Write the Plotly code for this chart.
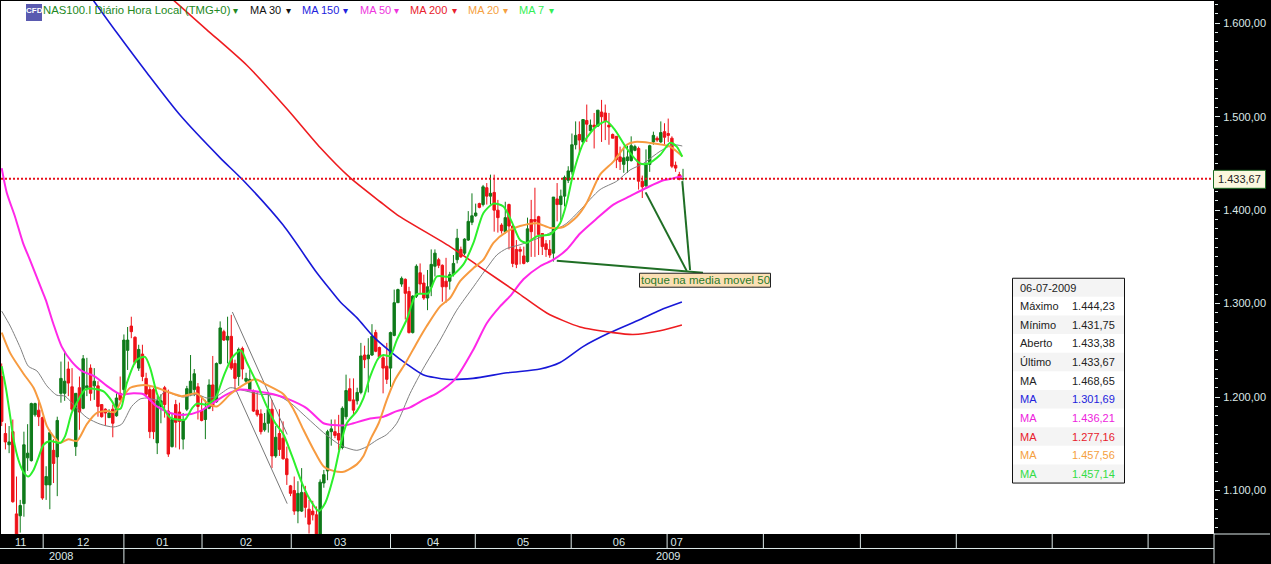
import plotly.graph_objects as go

# Daily candles, indexed by trading session
opens = [1222,1161,1149,1163,1075,1073,1086,1135,1132,1181,
 1186,1178,1106,1106,1143,1136,1204,1204,1230,1211,
 1147,1210,1188,1210,1231,1212,1212,1192,1187,1178,
 1187,1180,1204,1208,1250,1276,1264,1231,1246,1220,
 1208,1208,1151,1190,1210,1185,1147,1192,1184,1155,
 1187,1203,1208,1211,1185,1176,1188,1213,1195,1236,
 1270,1261,1265,1236,1222,1252,1217,1208,1206,1186,
 1182,1165,1172,1187,1137,1161,1156,1134,1105,1100,
 1078,1078,1098,1080,1078,1074,1050,1108,1121,1163,
 1163,1161,1146,1179,1209,1197,1196,1205,1245,1241,
 1245,1269,1253,1242,1233,1231,1266,1301,1321,1326,
 1313,1269,1308,1333,1322,1306,1318,1340,1347,1341,
 1324,1324,1331,1347,1358,1354,1368,1387,1394,1407,
 1406,1424,1415,1419,1400,1384,1377,1406,1383,1358,
 1358,1351,1345,1390,1390,1393,1375,1364,1358,1354,
 1412,1406,1415,1432,1441,1470,1481,1473,1496,1485,
 1491,1490,1505,1504,1491,1481,1479,1457,1449,1453,
 1453,1464,1466,1431,1426,1449,1473,1477,1473,1484,
 1482,1477,1448,1438,1433.38]
closes = [1174,1152,1152,1088,1050,1084,1149,1140,1193,1193,
 1179,1092,1115,1162,1129,1175,1220,1217,1215,1187,
 1204,1184,1241,1212,1204,1217,1190,1179,1183,1183,
 1172,1199,1197,1261,1261,1270,1237,1251,1222,1203,
 1163,1163,1196,1196,1192,1139,1176,1173,1174,1176,
 1209,1217,1225,1190,1175,1188,1213,1190,1236,1274,
 1261,1265,1231,1220,1251,1230,1220,1219,1185,1181,
 1163,1172,1187,1137,1157,1144,1134,1117,1097,1078,
 1097,1098,1082,1064,1074,1050,1109,1117,1163,1166,
 1159,1154,1188,1207,1196,1186,1205,1244,1240,1245,
 1265,1249,1243,1231,1219,1269,1301,1315,1327,1311,
 1269,1308,1340,1321,1306,1318,1342,1354,1341,1318,
 1318,1331,1343,1370,1350,1369,1388,1394,1397,1403,
 1425,1415,1418,1400,1392,1378,1392,1383,1343,1342,
 1356,1343,1380,1377,1388,1374,1361,1358,1352,1414,
 1406,1415,1435,1442,1470,1480,1475,1497,1492,1491,
 1489,1507,1500,1495,1489,1477,1454,1452,1456,1457,
 1469,1468,1431,1425,1449,1469,1480,1475,1483,1478,
 1480,1447,1445,1433,1433.67]
highs = [1236,1172,1169,1176,1115,1090,1163,1171,1194,1194,
 1197,1179,1126,1165,1155,1179,1238,1249,1238,1231,
 1204,1222,1245,1242,1235,1231,1217,1192,1188,1187,
 1192,1204,1222,1267,1275,1286,1265,1256,1256,1226,
 1212,1210,1201,1203,1212,1208,1183,1197,1194,1183,
 1212,1245,1230,1215,1201,1197,1219,1244,1237,1281,
 1272,1286,1288,1240,1253,1254,1226,1229,1208,1206,
 1187,1183,1203,1197,1169,1187,1174,1147,1106,1115,
 1110,1124,1105,1090,1089,1083,1112,1122,1165,1176,
 1176,1181,1190,1224,1220,1220,1210,1258,1255,1263,
 1278,1272,1254,1245,1258,1270,1315,1316,1329,1327,
 1318,1309,1342,1343,1331,1336,1358,1358,1349,1342,
 1349,1334,1352,1380,1361,1370,1399,1418,1407,1408,
 1427,1429,1438,1438,1411,1386,1409,1407,1384,1368,
 1361,1361,1392,1411,1424,1394,1375,1368,1368,1414,
 1429,1422,1437,1447,1482,1495,1495,1497,1513,1497,
 1504,1507,1518,1513,1504,1482,1479,1468,1468,1469,
 1479,1470,1468,1437,1465,1470,1484,1479,1495,1493,
 1498,1479,1452,1441,1444.23]
lows = [1169,1144,1140,1087,1045,1055,1072,1121,1131,1179,
 1169,1090,1090,1080,1108,1094,1194,1196,1201,1185,
 1137,1165,1187,1201,1196,1197,1179,1178,1169,1178,
 1157,1179,1196,1203,1229,1263,1235,1228,1217,1201,
 1156,1155,1139,1172,1178,1136,1146,1146,1144,1144,
 1185,1201,1201,1176,1174,1155,1187,1185,1194,1235,
 1260,1236,1229,1208,1212,1219,1215,1206,1184,1179,
 1160,1163,1162,1124,1135,1137,1133,1106,1094,1074,
 1065,1077,1071,1054,1068,1045,1045,1103,1111,1148,
 1156,1143,1144,1176,1196,1181,1192,1203,1231,1205,
 1244,1248,1243,1204,1214,1211,1265,1301,1318,1283,
 1268,1268,1306,1311,1304,1293,1308,1329,1338,1302,
 1301,1315,1329,1343,1349,1352,1367,1384,1393,1402,
 1404,1406,1406,1377,1376,1375,1375,1358,1339,1338,
 1342,1342,1344,1350,1350,1352,1352,1350,1349,1345,
 1388,1389,1404,1429,1438,1465,1459,1472,1473,1484,
 1466,1489,1473,1475,1470,1477,1445,1443,1440,1440,
 1452,1463,1422,1413,1425,1441,1470,1473,1472,1470,
 1473,1445,1441,1432,1431.75]
sessions = list(range(len(opens)))

# Moving averages: (session, price)
ma7_x = [0,1.2,2.3,3.2,4.5,6,7.2,8.6,9.9,11.3,13.1,15.8,17.1,18.9,20.7,22.5,24.8,27.5,29.7,31.1,32.2,33.8,36.5,38.7,40.1,41.9,43.7,45.5,47.3,49.5,51.4,52.7,55.4,57.7,59.9,62.2,64.6,66.2,68.9,71.6,73.9,76.1,78.4,81.1,83.3,85.6,87.4,89.6,91.4,93.2,95.9,97.7,99.5,101.8,103.1,104.9,106.7,109.4,112,115.2,117.5,121.2,124.7,127.4,130.1,132.8,135.5,137.7,140,141.8,144.5,148.1,150.8,152.6,154.4,157.1,160.7,163.4,165.6,168.8,172.4,174.6,177.8,180.5,182.3,183.8]
ma7_y = [1233,1208,1179,1155,1133,1119,1115,1122,1135,1149,1153,1151,1158,1183,1197,1208,1209,1206,1196,1187,1188,1215,1240,1243,1231,1204,1188,1178,1176,1176,1188,1193,1192,1199,1222,1242,1250,1237,1215,1190,1172,1160,1137,1108,1090,1078,1087,1115,1147,1172,1185,1199,1222,1242,1245,1244,1261,1283,1310,1311,1329,1329,1342,1365,1397,1407,1404,1388,1368,1365,1372,1374,1386,1408,1440,1472,1490,1495,1486,1466,1450,1450,1459,1472,1468,1457.14]
ma20_x = [0,2.3,5.9,8.6,10.4,12.2,14,15.8,18,20.3,23,25.7,28.4,30.6,32.4,34.7,38.7,41.9,44.6,48.6,52.7,55.4,58.1,61.7,65.3,68.5,71.6,76.1,78.8,81.5,84.2,86.9,89.6,92.3,95.9,97.7,99.5,101.8,104,106.3,109,112.1,114.8,118.4,121.1,123.8,127.4,130.1,132.8,136.4,140,144.5,148.1,151.7,155.3,158,161.6,165.2,168.8,171,175,180.5,183.8]
ma20_y = [1269,1247,1225,1210,1192,1169,1158,1151,1155,1153,1171,1183,1185,1184,1197,1210,1213,1210,1206,1201,1204,1194,1190,1203,1213,1219,1213,1203,1187,1165,1144,1126,1121,1120,1128,1137,1154,1172,1197,1219,1236,1258,1276,1297,1306,1324,1338,1347,1365,1377,1383,1386,1381,1382,1393,1408,1438,1452,1470,1473,1472,1468,1457.56]
ma30_x = [0,2.3,5,7.2,9.5,12.2,14.9,17.1,19.8,23,26.6,30.2,32.4,35.1,37.4,39.6,41.9,44.1,46.4,49.1,52.7,55.4,58.1,61.7,64.4,69.8,74.3,77.9,82.4,86.9,90.5,92.3,95.9,98.6,101.3,104,106.7,110.3,113.9,118.4,122.9,127.4,131,133.7,136.4,140,143.6,147.2,152.6,156.2,161.6,166.1,169.7,173.3,177.8,181.3,183.8]
ma30_y = [1292,1276,1253,1233,1228,1212,1202,1201,1190,1178,1171,1168,1171,1190,1198,1199,1197,1206,1203,1200,1203,1199,1201,1210,1208,1203,1202,1194,1178,1162,1151,1147,1143,1147,1154,1160,1172,1204,1231,1261,1293,1318,1338,1352,1359,1363,1368,1374,1386,1400,1422,1431,1443,1450,1463,1470,1468.65]
ma50_x = [0,1.35,3.6,5.75,7.6,10.8,11.9,13.9,16.2,18.9,21.6,25.2,28.4,32,35.6,38.3,41.9,45.5,49.5,53.6,57.2,60.8,64.4,68.9,73.4,77.9,82.4,86.9,89.6,93.2,95,99.5,103.1,106.7,110.3,113.9,117.5,122.4,127.4,131,134.6,137.3,140.9,145.4,149,152.6,156.2,160.7,165.2,169.7,174.2,178.7,181.3,183.8]
ma50_y = [1445,1419,1393,1365,1347,1315,1304,1279,1254,1238,1228,1222,1212,1203,1204,1203,1190,1183,1181,1185,1194,1203,1208,1206,1203,1197,1188,1172,1170,1170,1172,1177,1179,1185,1189,1197,1204,1219,1251,1279,1297,1308,1326,1340,1347,1358,1375,1391,1406,1415,1424,1432,1434,1436.21]
ma150_x = [24.65,31.06,39.2,48.1,59,65.2,76,85.1,88.7,91.4,95.9,100.3,104.9,109.5,113.8,120.2,127.3,136.5,145.4,150.8,157,164.3,172.4,177.8,183.7]
ma150_y = [1625,1590,1547,1502,1456,1432,1384,1333,1315,1302,1285,1265,1249,1235,1224,1219,1220,1226,1230,1237,1254,1269,1283,1293,1301.69]
ma200_x = [46.3,55.4,66.2,76.9,86,94,102.2,106.8,121.1,129.2,139.2,147.2,156.2,165.1,170.5,177.8,183.7]
ma200_y = [1625,1593,1555,1509,1467,1435,1409,1395,1361,1339,1312,1290,1275,1269,1267,1271,1277.16]

# Hand-drawn lines on the chart
trend_lines = [([62.3,77.1],[1291,1160]), ([63,77.1],[1210,1086])]
touch_lines = [([173.9,185],[1419,1335]), ([183.8,185.9],[1431,1336]), ([149.9,189.4],[1346,1333])]

last_price = 1433.67
y_major = [1100,1200,1300,1400,1500,1600]
month_labels = ["11","12","01","02","03","04","05","06","07"]
month_label_pos = [5.1,22,43.4,66,91.4,116.5,140.8,166.7,182.3]
month_edges = [11.2,33,54.1,78.2,105,127.9,153.8,179.7,205.7,231.9,257.8,283.7,309.6]
year_edge = 33

info_rows = [("06-07-2009","", "#222222"),("Máximo","1.444,23","#222222"),("Mínimo","1.431,75","#222222"),
             ("Aberto","1.433,38","#222222"),("Último","1.433,67","#222222"),("MA","1.468,65","#222222"),
             ("MA","1.301,69","#2222dd"),("MA","1.436,21","#ee22dd"),("MA","1.277,16","#e8202c"),
             ("MA","1.457,56","#f5a040"),("MA","1.457,14","#33dd44")]
legend_items = [("NAS100.I Diário Hora Local (TMG+0)",43,236,"#228822",11.3),("MA 30",249.5,288,"#111111",11),
                ("MA 150",301.5,345,"#2222dd",11),("MA 50",360,396,"#ee33dd",11),("MA 200",410,455,"#e8202c",11),
                ("MA 20",468,505,"#f5a040",11),("MA 7",519,551,"#33ee55",11)]

W, H = 1271, 564
L, R, T, B = 1, 1214, 1, 534.5
FONT = "Liberation Sans"
def fx(px): return (px - L) / (R - L)
def fy(py): return (B - py) / (B - T)

fig = go.Figure()
fig.add_trace(go.Candlestick(x=sessions, open=opens, high=highs, low=lows, close=closes,
    increasing=dict(line=dict(color="#0f7a1a", width=1), fillcolor="#0f7a1a"),
    decreasing=dict(line=dict(color="#ee1118", width=1), fillcolor="#ee1118"),
    whiskerwidth=0, hoverinfo="skip"))
for xs, ys in trend_lines:
    fig.add_trace(go.Scatter(x=xs, y=ys, mode="lines", line=dict(color="#777777", width=1), hoverinfo="skip"))
def ma(xs, ys, color, width):
    fig.add_trace(go.Scatter(x=xs, y=ys, mode="lines", hoverinfo="skip",
                             line=dict(color=color, width=width, shape="spline", smoothing=0.7)))
ma(ma30_x, ma30_y, "#808080", 1)
ma(ma150_x, ma150_y, "#1818d8", 1.6)
ma(ma50_x, ma50_y, "#ff28e8", 2)
ma(ma200_x, ma200_y, "#ee1c20", 1.6)
ma(ma20_x, ma20_y, "#f79b40", 2)
ma(ma7_x, ma7_y, "#2cf02c", 2)
for xs, ys in touch_lines:
    fig.add_trace(go.Scatter(x=xs, y=ys, mode="lines", line=dict(color="#1f6e25", width=2), hoverinfo="skip"))

shapes = [dict(type="line", xref="paper", yref="y", x0=0, x1=1, y0=last_price, y1=last_price,
               line=dict(color="#e8101c", width=2, dash="2px,2px"))]
AX = "#dce8e8"
for e in month_edges:
    shapes.append(dict(type="line", xref="x", yref="paper", x0=e, x1=e, y0=0, y1=fy(549), line=dict(color=AX, width=1)))
shapes.append(dict(type="line", xref="paper", yref="paper", x0=fx(0), x1=1, y0=fy(549), y1=fy(549), line=dict(color=AX, width=1)))
shapes.append(dict(type="line", xref="x", yref="paper", x0=year_edge, x1=year_edge, y0=fy(549), y1=fy(564), line=dict(color=AX, width=1)))
shapes.append(dict(type="line", xref="paper", yref="paper", x0=1, x1=1, y0=fy(534), y1=fy(564), line=dict(color=AX, width=1)))
shapes.append(dict(type="line", xref="paper", yref="paper", x0=1, x1=fx(1270), y0=fy(534.5), y1=fy(534.5), line=dict(color=AX, width=1)))

# Info table
TX0, TX1, TY0, TY1 = 1012.5, 1124.5, 278.5, 483.5
rh = (TY1 - TY0) / len(info_rows)
ann = []
for k, (a, b, c) in enumerate(info_rows):
    y0 = TY0 + k * rh
    if k % 2 == 0:
        shapes.append(dict(type="rect", xref="paper", yref="paper", x0=fx(TX0), x1=fx(TX1), y0=fy(y0), y1=fy(y0 + rh),
                           line=dict(width=0), fillcolor="#f4f4f4"))
    ann.append(dict(x=fx(1019), y=fy(y0 + rh / 2), text=a, xanchor="left", font=dict(color=c, size=11, family=FONT)))
    if b:
        ann.append(dict(x=fx(1115.5), y=fy(y0 + rh / 2), text=b, xanchor="right", font=dict(color=c, size=11, family=FONT)))
shapes.append(dict(type="rect", xref="paper", yref="paper", x0=fx(TX0), x1=fx(TX1), y0=fy(TY0), y1=fy(TY1),
                   line=dict(color="#111111", width=1), fillcolor="rgba(0,0,0,0)"))

# Price callout
shapes.append(dict(type="rect", xref="paper", yref="paper", x0=fx(1213.5), x1=fx(1265.5), y0=fy(170.5), y1=fy(188.5),
                   line=dict(color="#1f6e25", width=1), fillcolor="#fbf7df"))
ann.append(dict(x=fx(1239.5), y=fy(179.5), text="1.433,67", xanchor="center", font=dict(color="#222222", size=11, family=FONT)))

# Note box
shapes.append(dict(type="rect", xref="paper", yref="paper", x0=fx(639.5), x1=fx(770.5), y0=fy(273.5), y1=fy(287.5),
                   line=dict(color="#222222", width=1), fillcolor="#fbe0b4"))
ann.append(dict(x=fx(705), y=fy(280.5), text="toque na media movel 50", xanchor="center", font=dict(color="#2a7a2a", size=11.5, family=FONT)))

# Legend strip
shapes.append(dict(type="rect", xref="paper", yref="paper", x0=fx(26), x1=fx(42), y0=fy(4), y1=fy(21),
                   line=dict(width=0), fillcolor="#5a5ab0"))
ann.append(dict(x=fx(34), y=fy(11), text="<b>CFD</b>", xanchor="center", font=dict(color="#ffffff", size=8, family=FONT)))
for name, x0, xa, col, fs in legend_items:
    ann.append(dict(x=fx(x0 - 1), y=fy(10.5), text=name, xanchor="left", font=dict(color=col, size=fs, family=FONT)))
    ann.append(dict(x=fx(xa), y=fy(10.5), text="▾", xanchor="center", font=dict(color=col, size=10, family="DejaVu Sans")))

# Years
for text, px in (("2008", 60.7), ("2009", 667.7)):
    ann.append(dict(x=fx(px), y=fy(556.5), text=text, xanchor="center", font=dict(color=AX, size=11, family=FONT)))
for a in ann:
    a.update(xref="paper", yref="paper", showarrow=False, borderpad=0, yanchor="middle")

fig.update_layout(
    width=W, height=H, autosize=False, showlegend=False, separators=",.",
    paper_bgcolor="#000000", plot_bgcolor="#ffffff",
    margin=dict(l=L, r=W - R, t=T, b=H - B, pad=0),
    boxgap=0.35, boxgroupgap=0,
    shapes=shapes, annotations=ann,
    xaxis=dict(range=[-0.19, 327.4], rangeslider=dict(visible=False), showgrid=False, zeroline=False, showline=False,
               tickmode="array", tickvals=month_label_pos, ticktext=month_labels, ticks="", 
               tickfont=dict(color=AX, size=11, family=FONT), ticklabelstandoff=0),
    yaxis=dict(range=[1053.5, 1623.8], side="right", showgrid=False, zeroline=False, showline=False,
               tickmode="array", tickvals=y_major, tickformat=",.2f", ticks="outside", ticklen=5, tickcolor=AX,
               tickfont=dict(color=AX, size=11, family=FONT), ticklabelstandoff=1,
               minor=dict(dtick=10, tick0=0, ticks="outside", ticklen=3, tickcolor=AX, showgrid=False)),
)
fig.write_html("out.html", config=dict(displayModeBar=False),
               post_script="document.body.style.margin='0';document.body.style.overflow='hidden';")
